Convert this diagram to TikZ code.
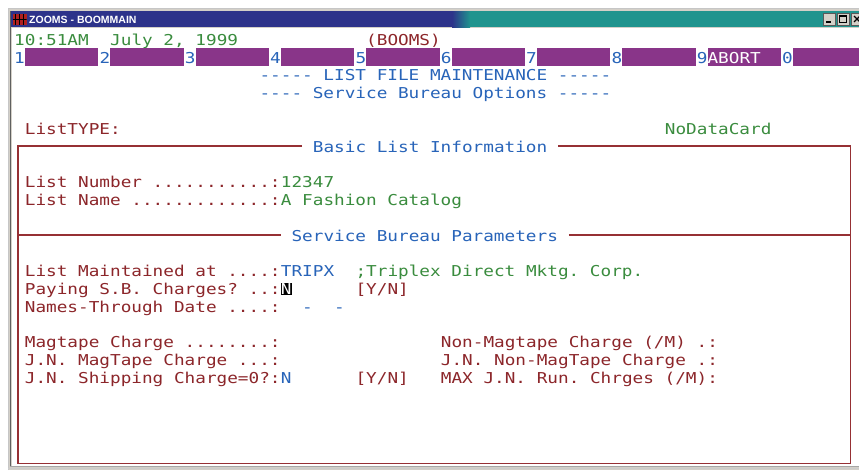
\documentclass[tikz,border=0pt]{standalone}
\usepackage{fontspec}
\setmonofont{DejaVu Sans Mono}[FakeStretch=1.18]
\newfontfamily\winfont{Liberation Sans}
\definecolor{termred}{RGB}{140,38,42}
\definecolor{termgreen}{RGB}{58,140,62}
\definecolor{termblue}{RGB}{40,100,185}
\definecolor{termpurple}{RGB}{137,53,137}
\definecolor{boxred}{RGB}{150,48,52}
\definecolor{titleblue}{RGB}{45,51,138}
\definecolor{titleteal}{RGB}{32,148,142}
\definecolor{winface}{RGB}{212,208,200}
\definecolor{iconred}{RGB}{175,32,32}
\newcommand\termfont{\ttfamily\fontsize{15}{17.8}\selectfont\frenchspacing}
\newcommand\cellw{10.667pt}
\newcommand\ppbb{path picture bounding box}
\tikzstyle{termcell} = [anchor=north west, inner sep=0pt, text height=14.9pt, text depth=2.9pt, font=\termfont]
\tikzstyle{prompt} = [termcell, text=termred]
\tikzstyle{answer} = [termcell, text=termgreen]
\tikzstyle{entry} = [termcell, text=termblue]
\tikzstyle{fkbar} = [termcell, fill=termpurple, minimum width=73.4pt]
\tikzstyle{cursorbox} = [anchor=base west, inner sep=0pt, fill=black, text=white, text height=11.5pt, text depth=0.8pt, font=\termfont]
\tikzstyle{frameline} = [draw=boxred, line width=1.8pt]
\tikzstyle{winbtn} = [draw=black!65, fill=winface, minimum width=12pt, minimum height=12pt, inner sep=0pt]
\tikzset{
	appicon/.style = {fill=iconred, minimum width=14pt, minimum height=11pt, inner sep=0pt,
		path picture={\draw[black, line width=0.9pt]
			([xshift=3pt] \ppbb.north west) -- ([xshift=3pt] \ppbb.south west)
			([xshift=7pt] \ppbb.north west) -- ([xshift=7pt] \ppbb.south west)
			([xshift=11pt] \ppbb.north west) -- ([xshift=11pt] \ppbb.south west)
			([yshift=-5.5pt] \ppbb.north west) -- ([yshift=-5.5pt] \ppbb.north east);
		},% end of path picture
	},
	wintitle/.style = {anchor=west, inner sep=0pt, text=white, font=\winfont\bfseries\fontsize{10.5}{12}\selectfont}
}
\begin{document}
\begin{tikzpicture}[x=10.667pt, y=-17.8pt]
\useasboundingbox (-14pt,30.1pt) rectangle (845pt,-441.9pt);
% Window frame, in pixels
\begin{scope}[x=1pt, y=-1pt, shift={(-14pt,30.1pt)}]
\fill[white] (0,0) rectangle (859,472);
\fill[winface] (8,8) rectangle (866,470);
\draw[gray!45] (8.5,470) -- (8.5,8.5) -- (866,8.5);
\draw[gray!75!black] (10.5,467) -- (10.5,10.5);
\fill[white] (12,28) rectangle (866,466);
\draw[gray!70] (10,466.5) -- (866,466.5);
\draw[gray!40] (8,468.5) -- (866,468.5);
\fill[titleblue] (11,11) rectangle (452,27);
\shade[left color=titleblue, right color=titleteal] (452,11) rectangle (470,27);
\fill[titleteal] (470,11) rectangle (866,27);
\node[appicon] (appIcon) at (19.5,19.5) {};
\node[wintitle] (winTitle) at (29,19.5) {ZOOMS - BOOMMAIN};
\node[winbtn] (minBtn) at (829,19) {};
\node[winbtn] (maxBtn) at (843,19) {};
\node[winbtn] (closeBtn) at (857,19) {};
\draw[line width=1.6pt] ([xshift=-3pt, yshift=-3pt] minBtn.center) -- ([xshift=2pt, yshift=-3pt] minBtn.center);
\draw[line width=0.8pt] ([xshift=-3.5pt, yshift=-3.5pt] maxBtn.center) rectangle ([xshift=3.5pt, yshift=3.5pt] maxBtn.center);
\draw[line width=1.5pt] ([xshift=-3.5pt, yshift=3pt] maxBtn.center) -- ([xshift=3.5pt, yshift=3pt] maxBtn.center);
\draw[line width=1.2pt] ([xshift=-3pt, yshift=-3pt] closeBtn.center) -- ([xshift=3pt, yshift=3pt] closeBtn.center)
  ([xshift=-3pt, yshift=3pt] closeBtn.center) -- ([xshift=3pt, yshift=-3pt] closeBtn.center);
\end{scope}

% Placement of nodes
\node[answer] (clock) at (0,0) {10:51AM};
\node[answer] (date) at (9,0) {July 2, 1999};
\node[prompt] (sysName) at (33,0) {(BOOMS)};

% function keys
\node[fkbar] (barOne) at (1,1) {};
\node[fkbar] (barTwo) at (9,1) {};
\node[fkbar] (barThree) at (17,1) {};
\node[fkbar] (barFour) at (25,1) {};
\node[fkbar] (barFive) at (33,1) {};
\node[fkbar] (barSix) at (41,1) {};
\node[fkbar] (barSeven) at (49,1) {};
\node[fkbar] (barEight) at (57,1) {};
\node[fkbar] (barNine) at (65,1) {};
\node[fkbar] (barZero) at (73,1) {};
\node[entry] (keyOne) at (0,1) {1};
\node[entry] (keyTwo) at (8,1) {2};
\node[entry] (keyThree) at (16,1) {3};
\node[entry] (keyFour) at (24,1) {4};
\node[entry] (keyFive) at (32,1) {5};
\node[entry] (keySix) at (40,1) {6};
\node[entry] (keySeven) at (48,1) {7};
\node[entry] (keyEight) at (56,1) {8};
\node[entry] (keyNine) at (64,1) {9};
\node[entry] (keyZero) at (72,1) {0};
\node[termcell, text=white] (abortKey) at (65,1) {ABORT};

\node[entry] (screenTitle) at (23,2) {----- LIST FILE MAINTENANCE -----};
\node[entry] (screenSub) at (23,3) {---- Service Bureau Options -----};
\node[prompt] (listType) at (1,5) {ListTYPE:};
\node[answer] (dataCard) at (61,5) {NoDataCard};

% basic list information
\node[entry] (basicHead) at (28,6) {Basic List Information};
\node[prompt] (numLbl) at (1,8) {List Number ...........:};
\node[answer] (numVal) at (25,8) {12347};
\node[prompt] (nameLbl) at (1,9) {List Name .............:};
\node[answer] (nameVal) at (25,9) {A Fashion Catalog};

% service bureau parameters
\node[entry] (sbHead) at (26,11) {Service Bureau Parameters};
\node[prompt] (maintLbl) at (1,13) {List Maintained at ....:};
\node[entry] (maintCode) at (25,13) {TRIPX};
\node[answer] (maintName) at (32,13) {;Triplex Direct Mktg. Corp.};
\node[prompt] (payLbl) at (1,14) {Paying S.B. Charges? ..:};
\node[cursorbox] (payVal) at (25,14.837) {N};
\node[prompt] (payHint) at (32,14) {[Y/N]};
\node[prompt] (thruLbl) at (1,15) {Names-Through Date ....:};
\node[entry] (thruDashA) at (27,15) {-};
\node[entry] (thruDashB) at (30,15) {-};
\node[prompt] (magLbl) at (1,17) {Magtape Charge ........:};
\node[prompt] (jnMagLbl) at (1,18) {J.N. MagTape Charge ...:};
\node[prompt] (shipLbl) at (1,19) {J.N. Shipping Charge=0?:};
\node[entry] (shipVal) at (25,19) {N};
\node[prompt] (shipHint) at (32,19) {[Y/N]};
\node[prompt] (nonMagLbl) at (40,17) {Non-Magtape Charge (/M) .:};
\node[prompt] (jnNonMagLbl) at (40,18) {J.N. Non-MagTape Charge .:};
\node[prompt] (maxRunLbl) at (40,19) {MAX J.N. Run. Chrges (/M):};

% frame corners
\coordinate (boxSW) at (0.4,24.35);
\coordinate (boxSE) at (78.42,24.35);

% Placement of frame lines
\draw[frameline] ([xshift=-\cellw] basicHead.west) -| (boxSW) -- (boxSE) |- ([xshift=\cellw] basicHead.east);
\draw[frameline] ([xshift=-\cellw] sbHead.west) -- (sbHead.west -| boxSW);
\draw[frameline] ([xshift=\cellw] sbHead.east) -- (sbHead.east -| boxSE);

\end{tikzpicture}
\end{document}
